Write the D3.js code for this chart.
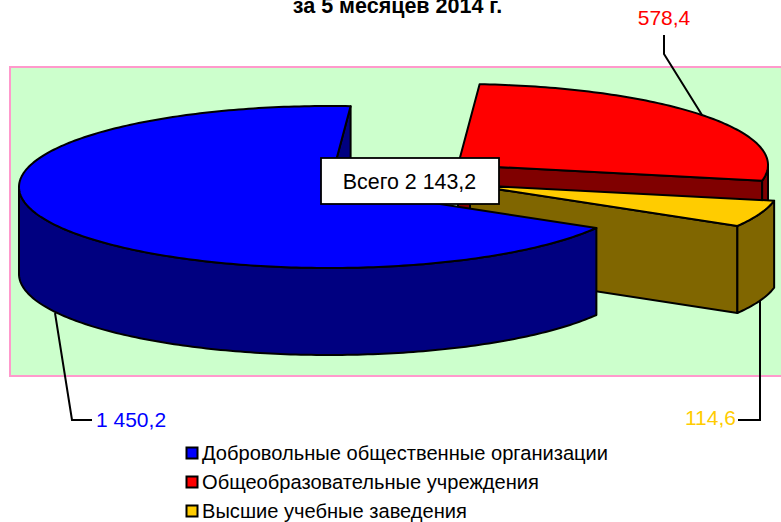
<!DOCTYPE html>
<html>
<head>
<meta charset="utf-8">
<script src="https://cdn.jsdelivr.net/npm/d3@7"></script>
<style>
    html, body { margin: 0; padding: 0; background: #fff; overflow: hidden; }
    text { font-family: "Liberation Sans", Arial, sans-serif; }
</style>
</head>
<body>
<div id="chart"></div>
<script>
var categories = ["Добровольные общественные организации", "Общеобразовательные учреждения", "Высшие учебные заведения"];
var values = [1450.2, 578.4, 114.6];
var topColors = ["#0000FF", "#FF0000", "#FFCC00"];
var sideColors = ["#000080", "#800000", "#806600"];
var labelColors = ["#0000FF", "#FF0000", "#FFCC00"];
var titleText = "за 5 месяцев 2014 г.";
var totalText = "Всего 2 143,2";

var width = 781, height = 522;
var cx = 329, cy = 187, rx = 310, ry = 81, depth = 87;
var firstAngle = 120.4 * Math.PI / 180;
// how far each slice is pulled out of the pie, in pixels
var explode = [[0, 0], [129, -22], [141, -2]];

var svg = d3.select("#chart").append("svg")
    .attr("width", width)
    .attr("height", height)
    .style("display", "block");

// plot area
svg.append("rect")
    .attr("x", 10).attr("y", 67)
    .attr("width", 790).attr("height", 309)
    .attr("fill", "#CCFFCC")
    .attr("stroke", "#FF99CC")
    .attr("stroke-width", 2);

// the top of the title is cut by the window, same as the reference
svg.append("text")
    .attr("x", 397.5).attr("y", 13)
    .attr("text-anchor", "middle")
    .attr("font-size", 21.5)
    .attr("font-weight", "bold")
    .text(titleText);

var pie = d3.pie().sort(null).startAngle(firstAngle).endAngle(firstAngle + 2 * Math.PI);
var slices = pie(values);

// angle (clockwise from top) to a point on the flattened rim
function rim(a, off, drop) {
    return [cx + off[0] + rx * Math.sin(a), cy + off[1] - ry * Math.cos(a) + (drop || 0)];
}

function arcPoints(a0, a1, off, drop) {
    var steps = Math.max(2, Math.ceil((a1 - a0) * 60));
    return d3.range(steps + 1).map(function (i) {
        return rim(a0 + (a1 - a0) * i / steps, off, drop);
    });
}

// parts of the rim that face the viewer (lower half of the ellipse)
function frontParts(a0, a1) {
    var parts = [];
    for (var k = 0; k < 3; k++) {
        var lo = Math.max(a0, Math.PI / 2 + 2 * Math.PI * k);
        var hi = Math.min(a1, 3 * Math.PI / 2 + 2 * Math.PI * k);
        if (hi > lo) parts.push([lo, hi]);
    }
    return parts;
}

var line = d3.line();
function closedPath(pts) { return line(pts) + "Z"; }

// red and yellow sit behind the blue slice
[1, 2, 0].forEach(function (i) {
    var d = slices[i];
    var off = explode[i];
    var g = svg.append("g")
        .attr("class", "slice")
        .attr("stroke", "#000")
        .attr("stroke-width", 2)
        .attr("stroke-linejoin", "round");

    var apex = [cx + off[0], cy + off[1]];
    var edge = rim(d.endAngle, off);

    // cut face on the end side
    g.append("path")
        .attr("fill", sideColors[i])
        .attr("d", closedPath([apex, edge, [edge[0], edge[1] + depth], [apex[0], apex[1] + depth]]));

    // outer wall
    frontParts(d.startAngle, d.endAngle).forEach(function (p) {
        var upper = arcPoints(p[0], p[1], off, 0);
        var lower = arcPoints(p[0], p[1], off, depth).reverse();
        g.append("path")
            .attr("fill", sideColors[i])
            .attr("d", closedPath(upper.concat(lower)));
    });

    // top face
    g.append("path")
        .attr("fill", topColors[i])
        .attr("d", closedPath([apex].concat(arcPoints(d.startAngle, d.endAngle, off, 0))));
});

// leader lines and value labels
var fmt = function (v) {
    return d3.format(",.1f")(v).replace(/,/g, " ").replace(".", ",");
};
var leaders = [
    [[92, 420], [72, 420], [55, 313]],
    [[664, 35], [664, 54], [702, 115]],
    [[738, 420], [760, 420], [760, 300]]
];
var labelPos = [[96, 427, "start"], [664, 25, "middle"], [736, 425, "end"]];

values.forEach(function (v, i) {
    svg.append("path")
        .attr("d", line(leaders[i]))
        .attr("fill", "none")
        .attr("stroke", "#000")
        .attr("stroke-width", 2);
    svg.append("text")
        .attr("x", labelPos[i][0])
        .attr("y", labelPos[i][1])
        .attr("text-anchor", labelPos[i][2])
        .attr("font-size", 21)
        .attr("fill", labelColors[i])
        .text(fmt(v));
});

// total box
svg.append("rect")
    .attr("x", 321).attr("y", 158)
    .attr("width", 178).attr("height", 46)
    .attr("fill", "#fff")
    .attr("stroke", "#000")
    .attr("stroke-width", 1.8);
svg.append("text")
    .attr("x", 409.5).attr("y", 189)
    .attr("text-anchor", "middle")
    .attr("font-size", 21.4)
    .text(totalText);

// legend
var legendY = d3.scalePoint().domain(categories).range([453, 511]);
var legend = svg.selectAll(".legend")
    .data(categories)
    .enter()
    .append("g")
    .attr("class", "legend")
    .attr("transform", function (d) { return "translate(186," + legendY(d) + ")"; });

legend.append("rect")
    .attr("x", 0.5).attr("y", -5.5)
    .attr("width", 11).attr("height", 11)
    .attr("fill", function (d, i) { return topColors[i]; })
    .attr("stroke", "#000")
    .attr("stroke-width", 2);

legend.append("text")
    .attr("x", 16).attr("y", 7)
    .attr("font-size", 20.1)
    .text(function (d) { return d; });
</script>
</body>
</html>
